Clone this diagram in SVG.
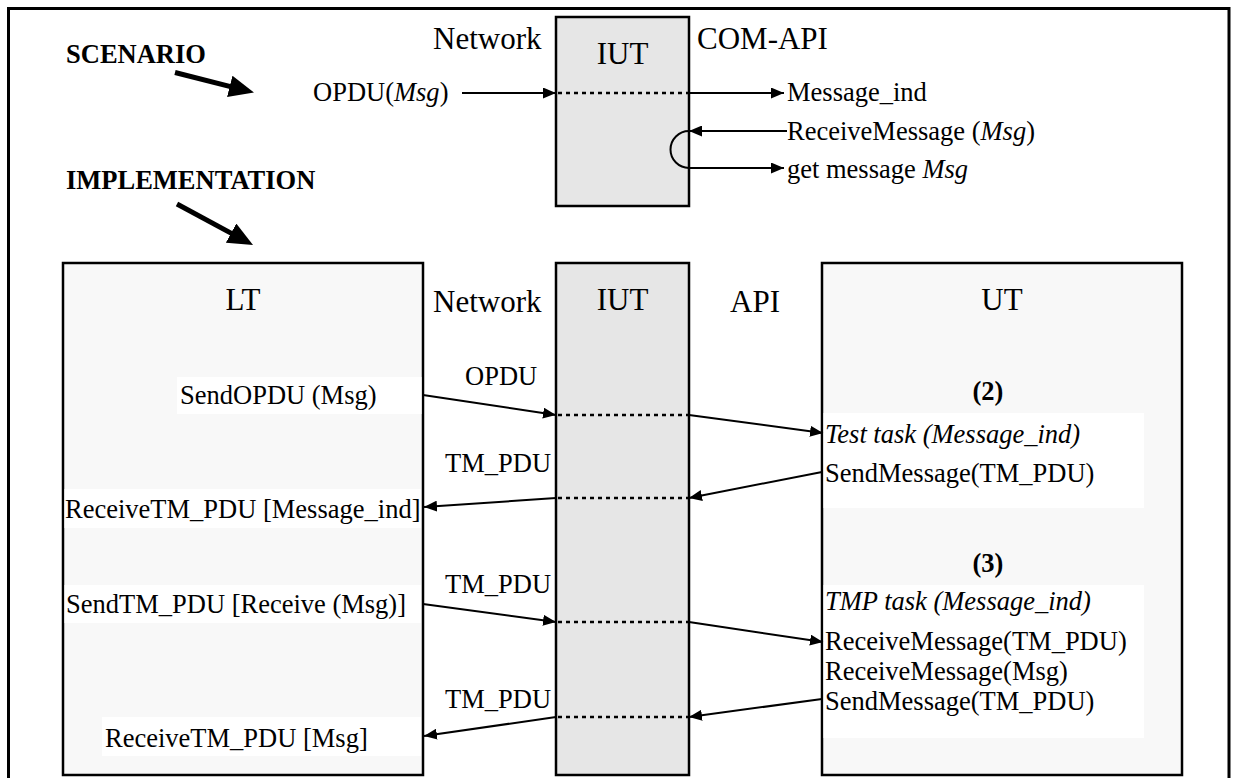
<svg xmlns="http://www.w3.org/2000/svg" width="1239" height="778" viewBox="0 0 1239 778">
  <style>
    .t { font-family: "Liberation Serif", "Times New Roman", serif; font-size: 26.5px; fill: #000; }
    .h { font-size: 31px; }
    .b { font-weight: bold; }
    .i { font-style: italic; }
    .box { stroke: #000; stroke-width: 2.5; }
    .iut { fill: #e6e6e6; }
    .side { fill: #f8f8f8; }
    .band { fill: #fff; }
    .msg { stroke: #000; stroke-width: 2; fill: none; }
    .arw { marker-end: url(#ah); }
    .dot { stroke: #000; stroke-width: 2.5; stroke-dasharray: 4 4; fill: none; }
    .big { stroke: #000; stroke-width: 5; marker-end: url(#bigah); }
  </style>
  <defs>
    <marker id="ah" markerWidth="13" markerHeight="11" refX="13" refY="5.5" orient="auto" markerUnits="userSpaceOnUse">
      <path d="M0,0 L13,5.5 L0,11 z" fill="#000"/>
    </marker>
    <marker id="bigah" markerWidth="25" markerHeight="22" refX="11" refY="11" orient="auto" markerUnits="userSpaceOnUse">
      <path d="M0,0 L25,11 L0,22 z" fill="#000"/>
    </marker>
  </defs>

  <rect width="1239" height="778" fill="#fff"/>

  <!-- outer frame (open at the bottom) -->
  <path d="M8.5,790 V8.5 H1229 V790" fill="none" stroke="#000" stroke-width="3"/>

  <!-- section titles with pointer arrows -->
  <g id="scenario-title">
    <text class="t b" x="66" y="63">SCENARIO</text>
    <line class="big" x1="175" y1="72.5" x2="240.4" y2="89.1"/>
  </g>
  <g id="implementation-title">
    <text class="t b" x="66" y="189">IMPLEMENTATION</text>
    <line class="big" x1="177" y1="204" x2="240.7" y2="238.4"/>
  </g>

  <!-- scenario: IUT between network and COM-API -->
  <g id="scenario-iut">
    <rect class="box iut" x="556" y="17" width="133" height="189"/>
    <text class="t h" x="622.5" y="64" text-anchor="middle">IUT</text>
  </g>
  <g id="scenario-labels">
    <text class="t h" x="433" y="49">Network</text>
    <text class="t h" x="697" y="49">COM-API</text>
    <text class="t" x="313" y="101">OPDU(<tspan class="i">Msg</tspan>)</text>
    <text class="t" x="787" y="101">Message_ind</text>
    <text class="t" x="787" y="140">ReceiveMessage (<tspan class="i">Msg</tspan>)</text>
    <text class="t" x="787" y="178">get message <tspan class="i">Msg</tspan></text>
  </g>

  <!-- implementation: lower tester -->
  <g id="lt">
    <rect class="box side" x="63" y="263" width="360" height="512"/>
    <rect class="band" x="177" y="377" width="244.5" height="37"/>
    <rect class="band" x="64.5" y="489" width="356.5" height="39"/>
    <rect class="band" x="64.5" y="585" width="356.5" height="38"/>
    <rect class="band" x="102" y="717" width="319" height="39"/>
    <text class="t h" x="243" y="310" text-anchor="middle">LT</text>
    <text class="t" x="180" y="404">SendOPDU (Msg)</text>
    <text class="t" x="65" y="518">ReceiveTM_PDU [Message_ind]</text>
    <text class="t" x="66" y="613">SendTM_PDU [Receive (Msg)]</text>
    <text class="t" x="105" y="747">ReceiveTM_PDU [Msg]</text>
  </g>

  <!-- implementation: IUT -->
  <g id="iut">
    <rect class="box iut" x="556" y="263" width="133" height="512"/>
    <text class="t h" x="622.5" y="310" text-anchor="middle">IUT</text>
  </g>

  <!-- implementation: upper tester -->
  <g id="ut">
    <rect class="box side" x="822" y="263" width="360" height="512"/>
    <rect class="band" x="823.5" y="413" width="320.5" height="95"/>
    <rect class="band" x="823.5" y="585" width="320.5" height="153"/>
    <text class="t h" x="1002" y="310" text-anchor="middle">UT</text>
    <text class="t b" x="988" y="400" text-anchor="middle">(2)</text>
    <text class="t i" x="825" y="443">Test task (Message_ind)</text>
    <text class="t" x="825" y="482">SendMessage(TM_PDU)</text>
    <text class="t b" x="988" y="572" text-anchor="middle">(3)</text>
    <text class="t i" x="825" y="610">TMP task (Message_ind)</text>
    <text class="t" x="825" y="650">ReceiveMessage(TM_PDU)</text>
    <text class="t" x="825" y="680">ReceiveMessage(Msg)</text>
    <text class="t" x="825" y="710">SendMessage(TM_PDU)</text>
  </g>

  <!-- interface labels -->
  <g id="interface-labels">
    <text class="t h" x="433" y="312">Network</text>
    <text class="t h" x="730" y="312">API</text>
    <text class="t" x="465" y="385">OPDU</text>
    <text class="t" x="445" y="472">TM_PDU</text>
    <text class="t" x="445" y="593">TM_PDU</text>
    <text class="t" x="445" y="708">TM_PDU</text>
  </g>

  <!-- connectors -->
  <g id="connectors">
    <!-- scenario -->
    <line class="msg arw" x1="462" y1="93" x2="556" y2="93"/>
    <line class="dot" x1="558" y1="93" x2="689" y2="93"/>
    <line class="msg arw" x1="689" y1="93" x2="784" y2="93"/>
    <line class="msg arw" x1="787" y1="131" x2="689" y2="131"/>
    <path class="msg" d="M689,131 A18.5,18.5 0 0 0 689,168"/>
    <line class="msg arw" x1="689" y1="168" x2="784" y2="168"/>

    <!-- OPDU: LT to UT -->
    <line class="msg arw" x1="423" y1="395" x2="556" y2="415"/>
    <line class="dot" x1="558" y1="415" x2="689" y2="415"/>
    <line class="msg arw" x1="689" y1="415" x2="823" y2="433"/>

    <!-- TM_PDU: UT to LT -->
    <line class="msg arw" x1="822" y1="472" x2="689" y2="498"/>
    <line class="dot" x1="558" y1="498" x2="689" y2="498"/>
    <line class="msg arw" x1="556" y1="498" x2="424" y2="507"/>

    <!-- TM_PDU: LT to UT -->
    <line class="msg arw" x1="423" y1="604" x2="556" y2="622"/>
    <line class="dot" x1="558" y1="622" x2="689" y2="622"/>
    <line class="msg arw" x1="689" y1="622" x2="823" y2="642"/>

    <!-- TM_PDU: UT to LT -->
    <line class="msg arw" x1="822" y1="699" x2="689" y2="717"/>
    <line class="dot" x1="558" y1="717" x2="689" y2="717"/>
    <line class="msg arw" x1="556" y1="717" x2="424" y2="736"/>
  </g>
</svg>
